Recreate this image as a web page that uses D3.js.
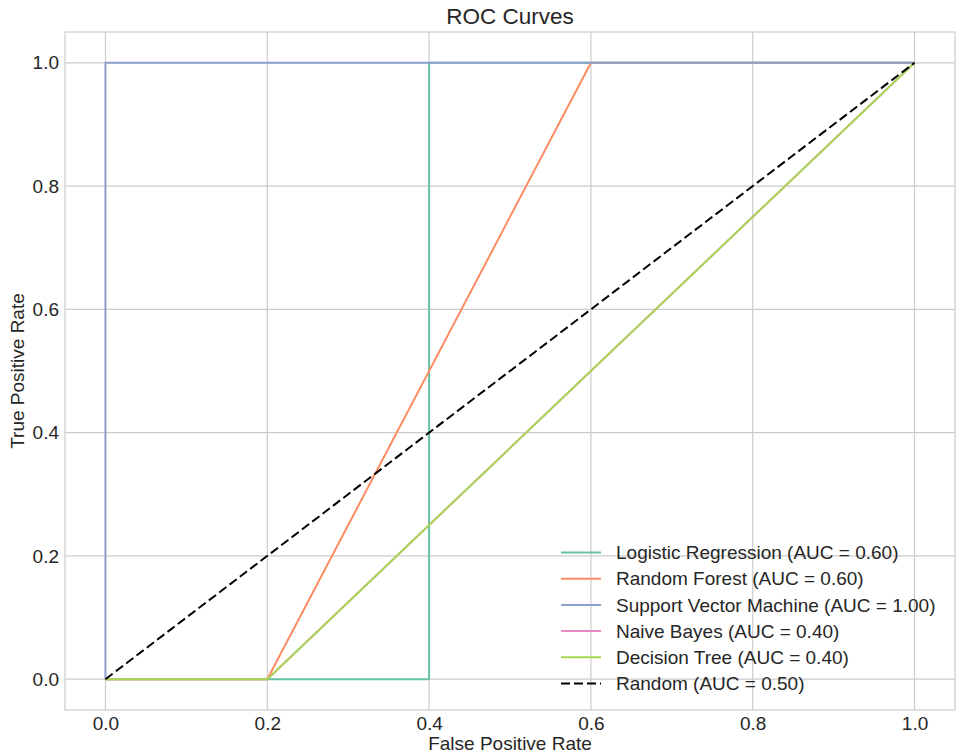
<!DOCTYPE html>
<html>
<head>
<meta charset="utf-8">
<script src="https://cdn.jsdelivr.net/npm/d3@7"></script>
<style>
  body { margin: 0; background: #fff; }
  svg text { font-family: "Liberation Sans", Arial, sans-serif; fill: #262626; }
</style>
</head>
<body>
<svg id="chart" width="960" height="754"></svg>
<script>
// === DATA ===
var modelNames = ['Logistic Regression', 'Random Forest', 'Support Vector Machine', 'Naive Bayes', 'Decision Tree'];
var modelAuc = [0.60, 0.60, 1.00, 0.40, 0.40];
var modelColors = ['#66c2a5', '#fc8d62', '#8da0cb', '#e78ac3', '#a6d854'];
var fprLR = [0, 0.2, 0.4, 0.4, 1];
var tprLR = [0, 0, 0, 1, 1];
var fprRF = [0, 0.2, 0.6, 1];
var tprRF = [0, 0, 1, 1];
var fprSVM = [0, 0, 1];
var tprSVM = [0, 1, 1];
var fprNB = [0, 0.2, 1];
var tprNB = [0, 0, 1];
var fprDT = [0, 0.2, 1];
var tprDT = [0, 0, 1];
var fprRandom = [0, 1];
var tprRandom = [0, 1];
var tickValues = [0, 0.2, 0.4, 0.6, 0.8, 1.0];

var curves = [[fprLR, tprLR], [fprRF, tprRF], [fprSVM, tprSVM], [fprNB, tprNB], [fprDT, tprDT]];

// === LAYOUT ===
var svg = d3.select('#chart');
var L = 65, R = 955, T = 32, B = 710;

var x = d3.scaleLinear().domain([-0.05, 1.05]).range([L, R]);
var y = d3.scaleLinear().domain([-0.05, 1.05]).range([B, T]);

// grid
var grid = svg.append('g');
tickValues.forEach(function(v) {
  grid.append('line').attr('x1', x(v)).attr('x2', x(v)).attr('y1', T).attr('y2', B)
    .attr('stroke', '#cccccc').attr('stroke-width', 1.2);
  grid.append('line').attr('x1', L).attr('x2', R).attr('y1', y(v)).attr('y2', y(v))
    .attr('stroke', '#cccccc').attr('stroke-width', 1.2);
});

// axes (labels only, no tick marks)
var xAxis = svg.append('g').attr('transform', 'translate(0,' + B + ')')
  .call(d3.axisBottom(x).tickValues(tickValues).tickFormat(d3.format('.1f')).tickSize(0).tickPadding(7));
var yAxis = svg.append('g').attr('transform', 'translate(' + L + ',0)')
  .call(d3.axisLeft(y).tickValues(tickValues).tickFormat(d3.format('.1f')).tickSize(0).tickPadding(6));
[xAxis, yAxis].forEach(function(a) {
  a.select('.domain').remove();
  a.selectAll('text').style('font-size', '19px').attr('fill', '#262626');
});

// frame
svg.append('rect').attr('x', L).attr('y', T).attr('width', R - L).attr('height', B - T)
  .attr('fill', 'none').attr('stroke', '#cccccc').attr('stroke-width', 1.2);

// curves
var line = d3.line().x(function(d) { return x(d[0]); }).y(function(d) { return y(d[1]); });
curves.forEach(function(c, i) {
  var pts = c[0].map(function(f, j) { return [f, c[1][j]]; });
  svg.append('path').datum(pts).attr('d', line)
    .attr('fill', 'none').attr('stroke', modelColors[i]).attr('stroke-width', 2)
    .attr('stroke-linejoin', 'round');
});
var randPts = fprRandom.map(function(f, j) { return [f, tprRandom[j]]; });
svg.append('path').datum(randPts).attr('d', line)
  .attr('fill', 'none').attr('stroke', '#000').attr('stroke-width', 2)
  .attr('stroke-dasharray', '9,4');

// legend
var legendItems = modelNames.map(function(n, i) {
  return { label: n + ' (AUC = ' + modelAuc[i].toFixed(2) + ')', color: modelColors[i], dash: null };
});
legendItems.push({ label: 'Random (AUC = 0.50)', color: '#000', dash: '9,4' });
var lg = svg.append('g');
legendItems.forEach(function(it, i) {
  var ly = 552.5 + i * 26.2;
  lg.append('line').attr('x1', 561).attr('x2', 601).attr('y1', ly).attr('y2', ly)
    .attr('stroke', it.color).attr('stroke-width', 2)
    .attr('stroke-dasharray', it.dash);
  lg.append('text').attr('x', 616).attr('y', ly).attr('dy', '0.35em')
    .style('font-size', '19px').text(it.label);
});

// titles
svg.append('text').attr('x', (L + R) / 2).attr('y', 24).attr('text-anchor', 'middle')
  .style('font-size', '22.5px').text('ROC Curves');
svg.append('text').attr('x', (L + R) / 2).attr('y', 750).attr('text-anchor', 'middle')
  .style('font-size', '19px').text('False Positive Rate');
svg.append('text').attr('transform', 'translate(24,' + ((T + B) / 2) + ') rotate(-90)')
  .attr('text-anchor', 'middle').style('font-size', '19px').text('True Positive Rate');
</script>
</body>
</html>
